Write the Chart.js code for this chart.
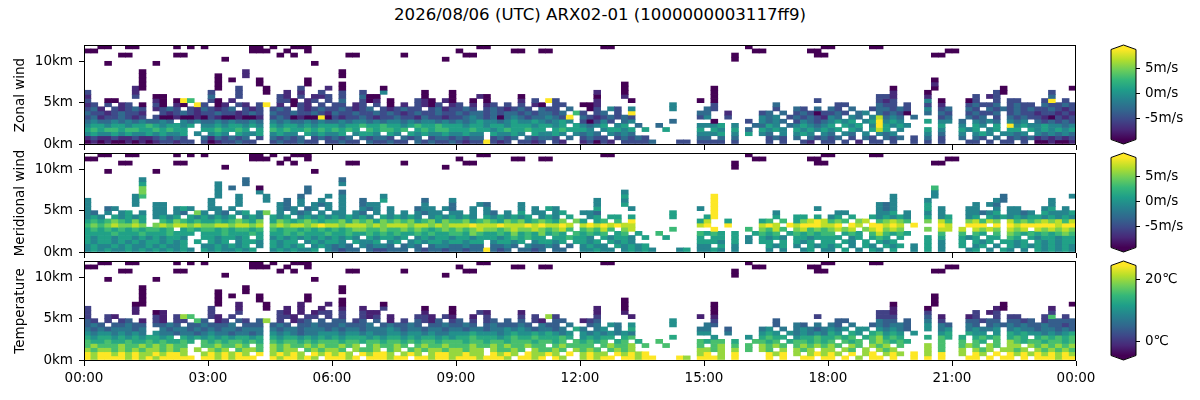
<!DOCTYPE html>
<html>
<head>
<meta charset="utf-8">
<script src="https://cdn.jsdelivr.net/npm/chart.js@4.4.1/dist/chart.umd.min.js"></script>
<style>
  body { margin: 0; background: #fff; width: 1200px; height: 400px; overflow: hidden; position: relative; font-family: "DejaVu Sans", sans-serif; }
  .box { position: absolute; }
  #title { position: absolute; left: 0; top: 5px; width: 1200px; text-align: center; font-size: 16.6px; color: #000; }
</style>
</head>
<body>
<div id="title">2026/08/06 (UTC) ARX02-01 (1000000003117ff9)</div>
<div class="box" id="p0"><canvas id="c0"></canvas></div>
<div class="box" id="p1"><canvas id="c1"></canvas></div>
<div class="box" id="p2"><canvas id="c2"></canvas></div>
<div class="box" id="b0"><canvas id="cb0"></canvas></div>
<div class="box" id="b1"><canvas id="cb1"></canvas></div>
<div class="box" id="b2"><canvas id="cb2"></canvas></div>
<script>
// axes / ticks
const timeTicks = [0, 3, 6, 9, 12, 15, 18, 21, 24];
const heightTicks = [0, 5, 10];
const windTicks = [-5, 0, 5];
const tempTicks = [0, 20];

// value of each digit in the grids below
const windLevels = [-9.2, -7, -5, -3, -1, 1, 3, 5, 7, 8.8];
const tempLevels = [-4.7, -2, 1, 4, 7, 10, 13, 16, 20, 24.7];

// grids: one string per 500 m level (top row = 11.5-12 km), 144 columns of 10 min,
// split in 3-hour blocks by "|", "." = no data
const zonalRows = [
  "..00..00.....0.0.0|......00.0..000...|..................|...00.............|...00.............|......0..........0|0.....00..........|..................",
  "00................|......000..0..0...|..................|0.......00..00....|..................|.......00......00.|.................0|0.................",
  ".....00......00...|..........0.0.....|..00......0.......|.00...............|..................|....0...........00|...............00.|..................",
  "..................|..0...............|................0.|..................|..................|....0.............|..................|..................",
  "...0......0.......|...............0..|..................|..................|..................|..................|..................|..................",
  "..................|..................|..................|..................|..................|..................|..................|..................",
  "........0.........|.....1............|.0................|..................|..................|..................|..................|..................",
  "........0.........|.0...1............|.0................|..................|..................|..................|..................|..................",
  "........0.........|.0.0...0......0...|..................|..................|..................|..................|...............0..|..................",
  "........0.........|.0.....0......0...|.0................|..................|......0...........|..................|...............1..|..................",
  ".......10.........|.0..2...0....2...1|.0.....0..........|..................|......0...........|.0................|.........0.....0..|.......0.........0",
  "2......1..........|2...2...0..1.1..2.|.2..2..4.....0...0|..................|..1...0...........|.0................|.........1....0...|......20......2...",
  "1......2..00......|3...2.....21.2.112|.2..300......0...0|...10....0........|..0...1...........|.0................|.......221....1...|...2.12.......3...",
  "2..00.....10.096..|20.1......220.12.2|.3..201.0...210.10|..0.0....1.2.92...|..1....0.........0|.0..............2.|.......212....4.0.|..02..2.22...29.2.",
  "12.2.12.0.20.10.92|.01.21.29.1.021.2.|22.12.2.0.1.2102.1|2.1.12.2.2.10.22..|001..........4....|.2........3.......|.22....322.2..2.1.|..23223.2322.32232",
  "231.21232.1232.213|2123.212.232.21232|232123.212322.2312|232.2321232.322.3.|.02.42.4.....4....|32........2..32.3.|32.3..233232..4.23|..32.3232323223212",
  "322123221..2123212|23221232.322322321|322322323212322322|3233232332323323.6|2.23.2.9.........3|3..1....23.3.23202|232.34.32320..3.32|..23223.2322122121",
  "231223212.20010010|21001001.232010090|212232122322132212|23432303432334329.|32123232.........2|4..2....434.232321|43.43.48343.3...23|..323.2.3232210212",
  "3433434343343.4343|34343343.434334343|343443434434344343|43454434544543454.|20242.34.....3....|.0....2.4343.24323|4545.459454...5.44|.3.4343.434.323232",
  "4554554556545545.4|45455454.545545455|545565565545655655|5455455455545545.5|4345.45.3..3.....4|445.4..3354.345434|5.545.495454....5.|.4.54.5.9454454434",
  "565665665565655..5|565565.5.656556565|6565.656656.565665|5565545655655.5655|54.45545.5..5....5|.54.5.3.5454.54545|45.54.585.4...5.4.|.545.45.55.5454545",
  "454454544545445.4.|454.5445.4544.5454|45.4554.54.5454454|4544.54454.54454.4|343.4343.........4|445.4.5.43.4.454.4|3.43.4.434....4.3.|.4.454.4434.434343",
  "121121121123232..3|132323.2.32323.232|323.32332.323.2332|3233.2323.32332.3.|2322.23232.......3|3.3.3....232.3.323|23.2.32.323.2.3.2.|.3.32.3.2323121212",
  "0101001010122122.2|0122322..2322322.2|2322.322322.323223|21229212.2212.21..|12021.22223...22.2|222.2....2.2..21.2|2.2.1.22.2..2.2.2.|..22.2.22.2.001001"
];

const meridionalRows = [
  "..00..00.....0.0.0|......00.0..000...|..................|...00.............|...00.............|......0..........0|0.....00..........|..................",
  "00................|......000..0..0...|..................|0.......00..00....|..................|.......00......00.|.................0|0.................",
  ".....00......00...|..........0.0.....|..00......0.......|.00...............|..................|....0...........00|...............00.|..................",
  "..................|..0...............|................0.|..................|..................|....0.............|..................|..................",
  "...0......0.......|...............0..|..................|..................|..................|..................|..................|..................",
  "..................|..................|..................|..................|..................|..................|..................|..................",
  "........4.........|.....3............|.3................|..................|..................|..................|..................|..................",
  "........5.........|.4...3............|.4................|..................|..................|..................|..................|..................",
  "........7.........|.4.3...0......3...|..................|..................|..................|..................|...............6..|..................",
  "........7.........|.4.....4......3...|.3................|..................|......4...........|..................|...............4..|..................",
  ".......46.........|.4..4...4....3...4|.4.....4..........|..................|......5...........|.9................|.........4.....4..|.......3.........4",
  "4......4..........|4...4...4..3.4..4.|.4..3..5.....3...4|..................|..4...4...........|.9................|.........4....4...|......43......4...",
  "4......4..44......|4...4.....43.4.434|.4..344......4...3|...43....4........|..4...5...........|.9................|.......434....5...|...4.43.......4...",
  "4..34.....44.454..|44.4......434.34.4|.4..434.4...344.43|..4.4....4.4.54...|..5....4.........4|.9..............4.|.......434....5.4.|..44..4.44...45.4.",
  "43.4.45.4.44.43.74|.43.45.47.4.434.4.|44.43.4.4.4.4344.4|4.4.43.4.5.44.45..|443..........5....|.9........4.......|.44....445.4..4.4.|..44345.4434.54445",
  "454.54545.4545.545|4545.454.545.45454|545454.545454.4545|454.5454545.454.5.|.45.55.5.....5....|59........5..55.5.|45.5..545454..5.45|..45.5454545545454",
  "565676575..6576565|56567657.576567656|675767576767567576|6756765767567657.7|5.56.6.9.........5|8..5....56.6.57898|676.78.67876..7.86|..78687.8676787868",
  "676787787.78788787|78878878.787887898|878887878887887878|88988898889898898.|89898988.........8|9..9....898.989998|89.98.99898.9...98|..999.9.9899999899",
  "5656565656656.5656|65656656.656656565|656776676676765676|76787767877876786.|67686.78.....6....|.9....6.7686.78676|7878.789787...7.88|.8.8787.878.878787",
  "5555655565556555.5|55655565.556565556|556556565655656556|6576556575657565.6|5656.56.5..6.....6|565.5..5656.565656|6.565.686565....6.|.6.65.6.7656565676",
  "545545545454554..5|545545.5.454545454|5454.545545.454554|5545554565655.5565|54.54554.5..5....5|.55.5.4.5454.55455|55.45.565.5...5.5.|.545.55.65.5455455",
  "545545454554545.5.|545.4554.5455.4545|54.5445.45.4545545|5455.45545.45545.5|545.5454.........5|554.5.4.55.5.545.5|5.54.5.545....5.4.|.5.545.5545.545455",
  "454454544545445..4|454545.4.54545.454|343.43443.343.3443|3433.3343.43343.3.|4544.54545.......4|4.5.4....545.4.545|45.4.54.545.4.5.4.|.5.45.4.5454545454",
  "4545445454545454.5|4544545..4545445.4|3233.322333.323323|32339323.3323.33..|44544.45454...45.4|454.4....4.4..45.4|4.5.4.54.5..4.5.4.|..45.4.54.4.545454"
];

const temperatureRows = [
  "..00..00.....0.0.0|......00.0..000...|..................|...00.............|...00.............|......0..........0|0.....00..........|..................",
  "00................|......000..0..0...|..................|0.......00..00....|..................|.......00......00.|.................0|0.................",
  ".....00......00...|..........0.0.....|..00......0.......|.00...............|..................|....0...........00|...............00.|..................",
  "..................|..0...............|................0.|..................|..................|....0.............|..................|..................",
  "...0......0.......|...............0..|..................|..................|..................|..................|..................|..................",
  "..................|..................|..................|..................|..................|..................|..................|..................",
  "........0.........|.....0............|.0................|..................|..................|..................|..................|..................",
  "........0.........|.0...0............|.0................|..................|..................|..................|..................|..................",
  "........0.........|.0.0...0......0...|..................|..................|..................|..................|...............0..|..................",
  "........0.........|.0.....0......0...|.0................|..................|......0...........|..................|...............0..|..................",
  ".......00.........|.0..1...0....1...1|.0.....0..........|..................|......0...........|.0................|.........0.....0..|.......0.........0",
  "2......1..........|2...1...0..1.1..1.|.1..1..2.....0...0|..................|..1...0...........|.0................|.........1....0...|......10......1...",
  "2......1..01......|2...2.....21.1.122|.2..211......1...0|...21....1........|..1...1...........|.0................|.......221....2...|...2.12.......2...",
  "2..21.....21.287..|21.2......221.22.2|.2..212.1...221.21|..1.2....2.2.82...|..2....1.........1|.1..............2.|.......222....3.1.|..12..2.22...27.2.",
  "32.2.23.1.21.22.73|.12.32.38.2.123.3.|33.23.3.1.2.3213.2|3.2.23.3.3.21.33..|123..........5....|.2........3.......|.33....433.3..4.2.|..33233.3323.23333",
  "343.33433.3343.334|3334.333.343.33433|343334.343343.3343|343.3433343.433.4.|.34.54.5.....5....|43........3..43.4.|43.4..343443..5.43|..43.3434343343323",
  "434344434..4344343|43443444.434434443|434434445434434434|4344344545434434.6|4.45.4.6.........4|4..3....45.4.45434|545.55.54543..5.45|..45445.4544344343",
  "545545454.54434434|54434434.545434455|545545445545545445|55655545655656545.|54545454.........5|5..4....565.545454|65.65.67565.5...56|..655.5.6565545456",
  "6566565656656.6565|65656656.656656565|656665656656566565|66766656766766676.|56566.67.....6....|.5....5.6766.56676|6767.678676...6.76|.6.6767.676.676767",
  "7667667667676676.7|67677676.767767677|767767767767677677|7677677677767767.7|6767.67.6..7.....7|677.6..7767.677676|7.767.787676....7.|.7.76.7.8767767767",
  "787778778787877..7|787787.7.878778787|7878.787787.787787|7787787877877.7877|77.78778.7..7....7|.78.7.7.8787.78787|87.87.878.7...8.7.|.787.87.88.8787878",
  "878878787887878.8.|878.7887.8788.7878|87.8778.78.7878878|8788.87787.87787.8|787.7878.........8|878.8.7.87.8.878.8|8.87.8.878....8.7.|.8.878.8878.878787",
  "989989898898998..8|989898.9.89898.989|898.98998.898.8998|8988.9898.98898.9.|8988.98989.......8|9.8.9....989.8.898|98.9.89.898.9.8.9.|.8.98.9.9898989898",
  "9899998989899999.9|9898999..9899898.9|9989.999899.998998|99989998.9989.98..|89899.99899...98.9|998.9....9.9..99.9|9.9.8.99.9..9.9.9.|..99.9.99.9.999899"
];

const viridis = ['#440154', '#482878', '#3e4989', '#31688e', '#26828e',
                 '#1f9e89', '#35b779', '#6ece58', '#b5de2b', '#fde725'];

Chart.defaults.font.family = '"DejaVu Sans", sans-serif';
Chart.defaults.font.size = 13.5;
Chart.defaults.color = '#000';

function hexToRgb(h) {
  return [parseInt(h.slice(1, 3), 16), parseInt(h.slice(3, 5), 16), parseInt(h.slice(5, 7), 16)];
}

function colormap(f) {
  f = Math.min(1, Math.max(0, f)) * 9;
  const i = Math.min(8, Math.floor(f));
  const t = f - i;
  const a = hexToRgb(viridis[i]), b = hexToRgb(viridis[i + 1]);
  const c = a.map((v, k) => Math.round(v + (b[k] - v) * t));
  return `rgb(${c[0]},${c[1]},${c[2]})`;
}

function buildDatasets(rows, levels, vmin, vmax) {
  const n = rows.length;
  return rows.map((line, k) => {
    const level = n - 1 - k;
    const cells = line.replace(/\|/g, '');
    const data = [];
    const colors = [];
    for (let c = 0; c < cells.length; c++) {
      const ch = cells[c];
      if (ch === '.') continue;
      const v = levels[+ch];
      data.push({ x: (c + 0.5) / 6, y: [level * 0.5, level * 0.5 + 0.5] });
      colors.push(colormap((v - vmin) / (vmax - vmin)));
    }
    return {
      data: data,
      backgroundColor: colors,
      grouped: false,
      barPercentage: 1,
      categoryPercentage: 1,
      borderWidth: 0
    };
  });
}

// black box round the plot area
const framePlugin = {
  id: 'frame',
  afterDraw(chart) {
    const a = chart.chartArea;
    const ctx = chart.ctx;
    ctx.save();
    ctx.strokeStyle = '#000';
    ctx.lineWidth = 1;
    ctx.strokeRect(Math.round(a.left) + 0.5, Math.round(a.top) + 0.5,
                   Math.round(a.right - a.left) - 1, Math.round(a.bottom - a.top) - 1);
    ctx.restore();
  }
};

// colour bar with pointed ends
const colorbarPlugin = {
  id: 'colorbar',
  afterDraw(chart) {
    const a = chart.chartArea;
    const ctx = chart.ctx;
    const ys = chart.scales.y;
    const top = ys.getPixelForValue(ys.max);
    const bot = ys.getPixelForValue(ys.min);
    const ext = 4.5;
    const l = a.left, r = a.right, cx = (a.left + a.right) / 2;
    ctx.save();
    const g = ctx.createLinearGradient(0, bot, 0, top);
    viridis.forEach((c, i) => g.addColorStop(i / 9, c));
    ctx.fillStyle = g;
    ctx.fillRect(l, top, r - l, bot - top);
    ctx.fillStyle = viridis[9];
    ctx.beginPath(); ctx.moveTo(l, top + 0.5); ctx.lineTo(cx, top - ext); ctx.lineTo(r, top + 0.5); ctx.closePath(); ctx.fill();
    ctx.fillStyle = viridis[0];
    ctx.beginPath(); ctx.moveTo(l, bot - 0.5); ctx.lineTo(cx, bot + ext); ctx.lineTo(r, bot - 0.5); ctx.closePath(); ctx.fill();
    ctx.strokeStyle = '#000';
    ctx.lineWidth = 1;
    ctx.beginPath();
    ctx.moveTo(cx, top - ext); ctx.lineTo(r, top); ctx.lineTo(r, bot);
    ctx.lineTo(cx, bot + ext); ctx.lineTo(l, bot); ctx.lineTo(l, top);
    ctx.closePath(); ctx.stroke();
    ctx.restore();
  }
};

const panels = [
  { rows: zonalRows, levels: windLevels, vmin: -9.2, vmax: 8.8, title: 'Zonal wind', cbTicks: windTicks, unit: 'm/s', top: 45 },
  { rows: meridionalRows, levels: windLevels, vmin: -9.2, vmax: 8.8, title: 'Meridional wind', cbTicks: windTicks, unit: 'm/s', top: 153 },
  { rows: temperatureRows, levels: tempLevels, vmin: -4.7, vmax: 24.7, title: 'Temperature', cbTicks: tempTicks, unit: '\u2103', top: 261 }
];

function timeLabel(v) {
  return String(v % 24).padStart(2, '0') + ':00';
}

panels.forEach((p, i) => {
  const last = i === panels.length - 1;
  const box = document.getElementById('p' + i);
  box.style.left = '0px';
  box.style.top = (p.top - 5) + 'px';
  box.style.width = '1100px';
  box.style.height = (last ? 135 : 111) + 'px';

  new Chart(document.getElementById('c' + i), {
    type: 'bar',
    data: { datasets: buildDatasets(p.rows, p.levels, p.vmin, p.vmax) },
    options: {
      responsive: true,
      maintainAspectRatio: false,
      animation: false,
      events: [],
      layout: { padding: { top: 5, right: 24, bottom: 0, left: 0 } },
      plugins: { legend: { display: false }, tooltip: { enabled: false } },
      scales: {
        x: {
          type: 'linear', min: 0, max: 24, offset: false,
          afterBuildTicks: s => { s.ticks = timeTicks.map(v => ({ value: v })); },
          afterFit: s => { s.height = last ? 30 : 6; s.paddingLeft = 0; s.paddingRight = 0; },
          grid: { offset: false, drawOnChartArea: false, drawTicks: true, tickLength: 5, color: '#000', tickColor: '#000' },
          border: { display: false },
          ticks: { display: last, autoSkip: false, maxRotation: 0, padding: 4, color: '#000', callback: v => timeLabel(v) }
        },
        y: {
          type: 'linear', min: -0.12, max: 11.97,
          afterBuildTicks: s => { s.ticks = heightTicks.map(v => ({ value: v })); },
          afterFit: s => { s.width = 84; s.paddingTop = 0; s.paddingBottom = 0; },
          grid: { drawOnChartArea: false, drawTicks: true, tickLength: 5, color: '#000', tickColor: '#000' },
          border: { display: false },
          ticks: { padding: 6, color: '#000', callback: v => v + 'km' },
          title: { display: true, text: p.title, color: '#000', padding: { top: 12, bottom: 0 } }
        }
      }
    },
    plugins: [framePlugin]
  });

  const cbox = document.getElementById('b' + i);
  cbox.style.left = '1100px';
  cbox.style.top = (p.top - 5) + 'px';
  cbox.style.width = '100px';
  cbox.style.height = '110px';

  new Chart(document.getElementById('cb' + i), {
    type: 'bar',
    data: { datasets: [] },
    options: {
      responsive: true,
      maintainAspectRatio: false,
      animation: false,
      events: [],
      layout: { padding: { top: 9.5, right: 0, bottom: 10.5, left: 11 } },
      plugins: { legend: { display: false }, tooltip: { enabled: false } },
      scales: {
        x: { display: false },
        y: {
          type: 'linear', position: 'right', min: p.vmin, max: p.vmax,
          afterBuildTicks: s => { s.ticks = p.cbTicks.map(v => ({ value: v })); },
          afterFit: s => { s.width = 64; s.paddingTop = 0; s.paddingBottom = 0; },
          grid: { drawOnChartArea: false, drawTicks: true, tickLength: 4, color: '#000', tickColor: '#000' },
          border: { display: false },
          ticks: { padding: 5, color: '#000', callback: v => v + p.unit }
        }
      }
    },
    plugins: [colorbarPlugin]
  });
});
</script>
</body>
</html>
